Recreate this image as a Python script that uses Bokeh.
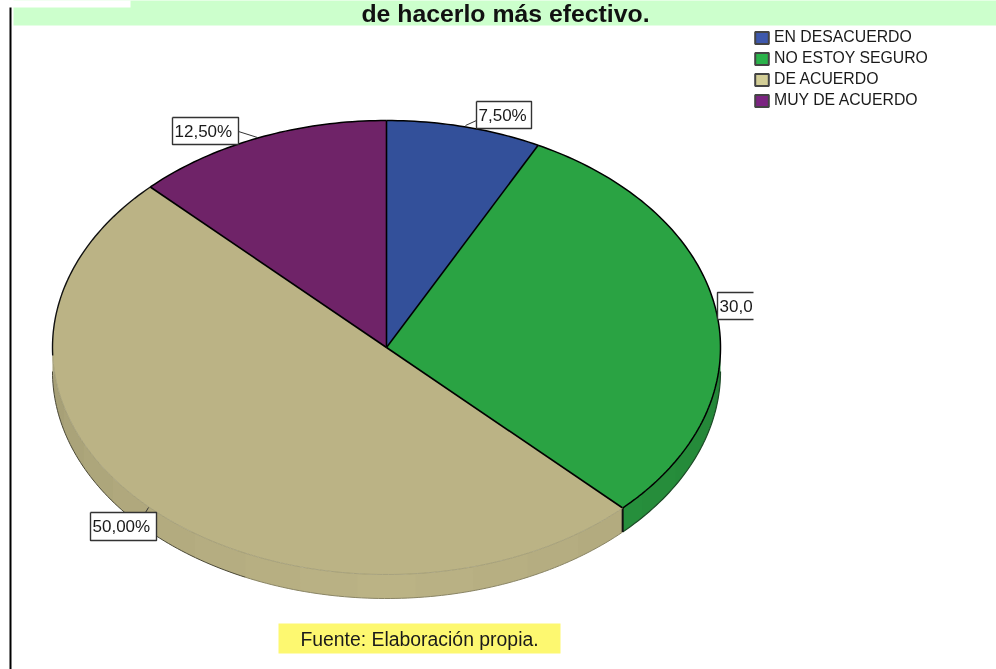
import numpy as np
from bokeh.plotting import figure
from bokeh.embed import file_html
from bokeh.resources import INLINE
from bokeh.models import Legend, LegendItem
from bokeh.core.properties import value

# data
categories = ["EN DESACUERDO", "NO ESTOY SEGURO", "DE ACUERDO", "MUY DE ACUERDO"]
percentages = [7.5, 30.0, 50.0, 12.5]
label_texts = ["7,50%", "30,0", "50,00%", "12,50%"]
title_text = "de hacerlo más efectivo."
source_text = "Fuente: Elaboración propia."

# styles
top_colors = ["#33509A", "#2AA343", "#BBB385", "#6F2368"]
wall_colors = ["#33509A", "#299740", "#BBB385", "#6F2368"]
legend_colors = ["#3E58AC", "#2AB24A", "#D3CE97", "#7B2481"]

# page pixel geometry
W, H = 996, 669
CX, CY, RX, RY, DEPTH = 386.0, 347.0, 334.0, 227.0, 24.0

p = figure(width=W, height=H, output_backend="svg", toolbar_location=None,
           x_range=(0, W), y_range=(H, 0), min_border=0)
p.styles = {"position": "fixed", "left": "0px", "top": "0px"}
p.axis.visible = False
p.grid.visible = False
p.outline_line_color = None
p.background_fill_color = "white"
p.border_fill_color = "white"
FONT = value("Liberation Sans")


def arc(t0, t1, dy=0.0, n=None):
    """Clockwise-from-top angles, degrees, on the projected ellipse."""
    n = n or max(2, int(abs(t1 - t0)) + 2)
    a = np.radians(np.linspace(t0, t1, n))
    return CX + RX * np.sin(a), CY - RY * np.cos(a) + dy


# header band and left rule
p.quad(left=[13], right=[W + 5], top=[-5], bottom=[25], fill_color="#CCFFCC", line_color=None)
p.quad(left=[10], right=[130], top=[-5], bottom=[7], fill_color="white", line_color=None)
p.quad(left=[9], right=[11], top=[7], bottom=[H + 5], fill_color="black", line_color=None)
p.text(x=[505], y=[13], text=[title_text], text_align="center", text_baseline="alphabetic",
       text_font=FONT, text_font_style="bold", text_font_size="24.8px", text_color="#111111")

# slices
edges = np.concatenate([[0], np.cumsum(percentages)]) * 3.6


def shade(hex_color, f):
    rgb = [int(hex_color[i:i + 2], 16) for i in (1, 3, 5)]
    return "#%02x%02x%02x" % tuple(int(c * f) for c in rgb)


# side wall, in stepped strips as in the original render
for i, c in enumerate(wall_colors):
    a, b = max(edges[i], 90.0), min(edges[i + 1], 270.0)
    if b <= a:
        continue
    steps = np.arange(a, b, 10.0).tolist() + [b]
    for t0, t1 in zip(steps[:-1], steps[1:]):
        xt, yt = arc(t0, min(t1 + 0.6, b))
        xb, yb = arc(min(t1 + 0.6, b), t0, DEPTH)
        f = 1 - 0.12 * (abs((t0 + t1) / 2 - 180) / 90) ** 1.3
        p.patch(np.r_[xt, xb], np.r_[yt, yb], fill_color=shade(c, f), line_color=None)

# wall outlines
xb, yb = arc(90, 135, DEPTH)
p.line(xb, yb, line_color="#1c4a26", line_width=1.2)
xb, yb = arc(135, 205, DEPTH)
p.line(xb, yb, line_color="#8a8565", line_width=1.0)
xb, yb = arc(205, 270, DEPTH)
p.line(xb, yb, line_color="#4a4836", line_width=1.0)
xv, yv = arc(edges[2], edges[2], n=2)
p.line([xv[0], xv[0]], [yv[0], yv[0] + DEPTH], line_color="#111111", line_width=2)

# top faces
for i, c in enumerate(top_colors):
    x, y = arc(edges[i], edges[i + 1])
    p.patch(np.r_[CX, x], np.r_[CY, y], fill_color=c, line_color=None)

# rim: black except for the lower beige edge, which is thin and faint
for i in range(4):
    x, y = arc(edges[i], edges[i + 1])
    p.line([CX, x[0]], [CY, y[0]], line_color="black", line_width=1.6)
    if i == 2:
        xa, ya = arc(edges[2], 268)
        p.line(xa, ya, line_color="#9d9874", line_width=0.8)
        xa, ya = arc(268, edges[3])
        p.line(xa, ya, line_color="#111111", line_width=1.4)
    else:
        p.line(x, y, line_color="black", line_width=1.5)

# callout labels (box, leader, text)
boxes = [(476, 531, 101, 128), (717, 753, 292, 319), (90, 156, 512, 540), (172, 238, 117, 144)]
leaders = [([476, 465], [120, 125]), ([717, 717], [300, 300]), ([148, 145], [507, 512]), ([238, 257], [131, 137])]
for (l, r, t, b), (lx, ly), txt in zip(boxes, leaders, label_texts):
    p.line(lx, ly, line_color="#333333", line_width=1)
    p.quad(left=[l], right=[r], top=[t], bottom=[b], fill_color="white", line_color=None)
    if txt == "30,0":
        p.line([r, l, l, r], [t, t, b, b], line_color="#333333", line_width=1.4)
    else:
        p.line([l, r, r, l, l], [t, t, b, b, t], line_color="#333333", line_width=1.4)
    p.text(x=[l + 2], y=[(t + b) / 2], text=[txt], text_align="left", text_baseline="middle",
           text_font=FONT, text_font_size="17px", text_color="#1a1a1a")

# source note
p.quad(left=[278], right=[560], top=[623], bottom=[653], fill_color="#FDF870", line_color=None)
p.text(x=[419], y=[638.5], text=[source_text], text_align="center", text_baseline="middle",
       text_font=FONT, text_font_size="19.4px", text_color="#1a1a1a")

# legend
items = []
for name, c in zip(categories, legend_colors):
    r = p.patch([np.nan], [np.nan], fill_color=c, line_color="#444444", line_width=2)
    items.append(LegendItem(label=name, renderers=[r]))
legend = Legend(items=items, location=(753, H - 109), orientation="vertical",
                glyph_width=17, glyph_height=15, label_height=15, spacing=3, padding=0, margin=0,
                label_standoff=4, background_fill_alpha=0, border_line_color=None,
                label_text_font="Liberation Sans", label_text_font_size="15.8px",
                label_text_color="#1a1a1a")
p.add_layout(legend, "center")

open("out.html", "w").write(file_html(p, INLINE))
